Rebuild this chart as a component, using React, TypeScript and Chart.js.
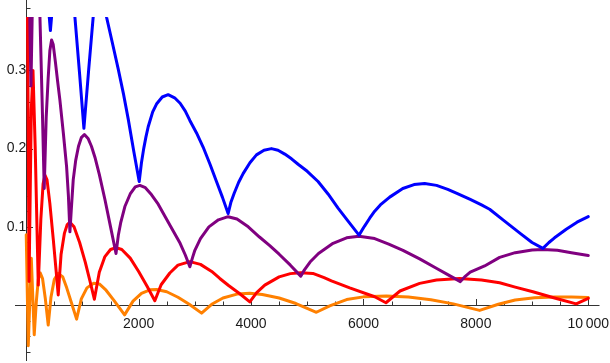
import { useEffect, useRef } from 'react';
import { Chart, registerables } from 'chart.js';

Chart.register(...registerables);

// ---- data (x, y) ----
const blueSeries: [number, number][] = [
  [0, 0.9], [200, 0.6], [390, 0.385], [430, 0.351], [470, 0.385], [650, 0.6], [840, 0.39], [866, 0.368],
  [950, 0.295], [1026, 0.226], [1110, 0.3], [1191, 0.368], [1215, 0.39], [1320, 0.45], [1405, 0.39],
  [1429, 0.368], [1530, 0.336], [1636, 0.302], [1730, 0.27], [1814, 0.238], [1910, 0.198], [2010, 0.158],
  [2050, 0.182], [2090, 0.2], [2130, 0.215], [2170, 0.228], [2250, 0.247], [2318, 0.257], [2420, 0.266],
  [2525, 0.269], [2640, 0.265], [2738, 0.258], [2830, 0.248], [2911, 0.236], [3030, 0.22], [3147, 0.202],
  [3270, 0.18], [3385, 0.158], [3490, 0.138], [3592, 0.117], [3640, 0.131], [3700, 0.143], [3780, 0.157],
  [3859, 0.168], [3980, 0.182], [4096, 0.192], [4230, 0.198], [4363, 0.2], [4480, 0.198], [4600, 0.193],
  [4720, 0.187], [4837, 0.18], [5000, 0.171], [5192, 0.158], [5370, 0.142], [5548, 0.124], [5730, 0.107],
  [5921, 0.0894], [6020, 0.101], [6111, 0.111], [6200, 0.12], [6300, 0.128], [6467, 0.138], [6700, 0.149],
  [6900, 0.154], [7089, 0.1555], [7300, 0.153], [7500, 0.148], [7653, 0.143], [7900, 0.135], [8100, 0.128],
  [8245, 0.1225], [8500, 0.108], [8800, 0.091], [9000, 0.08], [9193, 0.0724], [9300, 0.08], [9400, 0.086],
  [9608, 0.097], [9800, 0.106], [10000, 0.113],
];

const purpleSeries: [number, number][] = [
  [0, 0.9], [55, 0.4], [84, 0.28], [113, 0.4], [200, 0.7], [230, 0.4], [244, 0.368], [283, 0.26],
  [320, 0.149], [355, 0.24], [390, 0.29], [420, 0.325], [451, 0.339], [480, 0.333], [520, 0.31],
  [560, 0.285], [599, 0.262], [660, 0.22], [718, 0.177], [750, 0.14], [777, 0.0936], [800, 0.12],
  [836, 0.16], [880, 0.185], [930, 0.203], [980, 0.214], [1035, 0.218], [1100, 0.213], [1160, 0.203],
  [1222, 0.189], [1300, 0.167], [1400, 0.135], [1500, 0.1], [1597, 0.066], [1640, 0.09], [1680, 0.105],
  [1755, 0.126], [1850, 0.142], [1940, 0.151], [2022, 0.153], [2120, 0.15], [2230, 0.141], [2348, 0.129],
  [2480, 0.112], [2620, 0.094], [2738, 0.079], [2830, 0.064], [2911, 0.049], [2960, 0.061], [3000, 0.07],
  [3100, 0.085], [3250, 0.1], [3420, 0.109], [3592, 0.113], [3750, 0.11], [3950, 0.1], [4150, 0.087],
  [4333, 0.076], [4500, 0.065], [4700, 0.051], [4884, 0.037], [4950, 0.045], [5050, 0.055], [5200, 0.066],
  [5459, 0.079], [5700, 0.086], [5921, 0.088], [6200, 0.085], [6450, 0.078], [6703, 0.07], [7000, 0.059],
  [7297, 0.047], [7500, 0.039], [7724, 0.03], [7800, 0.036], [7900, 0.042], [8156, 0.05], [8423, 0.061],
  [8700, 0.067], [9000, 0.0705], [9193, 0.0711], [9450, 0.07], [9700, 0.067], [10000, 0.0635],
];

const redSeries: [number, number][] = [
  [0, 0.6], [25, 0.35], [50, 0.03], [90, 0.25], [120, 0.3], [160, 0.2], [214, 0.0255], [260, 0.11],
  [300, 0.155], [333, 0.166], [370, 0.16], [420, 0.13], [480, 0.085], [530, 0.045], [569, 0.013],
  [620, 0.065], [680, 0.092], [730, 0.103], [777, 0.106], [850, 0.1], [950, 0.08], [1050, 0.055],
  [1130, 0.032], [1212, 0.0075], [1300, 0.042], [1400, 0.062], [1500, 0.071], [1597, 0.0735], [1700, 0.071],
  [1850, 0.06], [2000, 0.043], [2150, 0.024], [2288, 0.0055], [2400, 0.026], [2555, 0.041], [2700, 0.051],
  [2911, 0.0555], [3100, 0.052], [3300, 0.043], [3444, 0.034], [3600, 0.025], [3800, 0.0145], [3978, 0.004],
  [4100, 0.016], [4244, 0.0255], [4500, 0.036], [4700, 0.0402], [4884, 0.0413], [5100, 0.0405], [5300, 0.035],
  [5430, 0.031], [5756, 0.022], [6200, 0.0106], [6400, 0.003], [6650, 0.018], [7000, 0.0277], [7300, 0.032],
  [7711, 0.034], [8100, 0.032], [8423, 0.0285], [8700, 0.023], [9015, 0.017], [9400, 0.009], [9786, 0.0015],
  [10000, 0.0085],
];

const orangeSeries: [number, number][] = [
  [0, 0.09], [36, -0.052], [90, 0.06], [142, -0.038], [180, 0.005], [215, 0.033], [250, 0.041], [290, 0.034],
  [340, 0.008], [391, -0.0255], [440, 0.01], [500, 0.033], [569, 0.0405], [650, 0.036], [720, 0.022],
  [800, 0.004], [896, -0.018], [980, 0.008], [1080, 0.022], [1200, 0.028], [1300, 0.027], [1420, 0.019],
  [1560, 0.006], [1750, -0.0125], [1900, 0.005], [2050, 0.015], [2200, 0.0195], [2320, 0.02], [2500, 0.017],
  [2700, 0.01], [2900, 0.001], [3120, -0.0103], [3300, 0.001], [3500, 0.009], [3750, 0.014], [3978, 0.015],
  [4200, 0.0135], [4500, 0.009], [4800, 0.002], [5163, -0.0092], [5400, -0.001], [5700, 0.007], [6000, 0.0105],
  [6408, 0.0115], [6800, 0.0103], [7200, 0.0068], [7600, 0.0015], [8067, -0.0068], [8400, 0.001],
  [8700, 0.0065], [9045, 0.0095], [9400, 0.0102], [9700, 0.0102], [10000, 0.0098],
];

// ---- axes ----
const xMajorTicks = [2000, 4000, 6000, 8000, 10000];
const xTickLabels = ['2000', '4000', '6000', '8000', '10\u2009000'];
const xMinorTicks = [500, 1000, 1500, 2500, 3000, 3500, 4500, 5000, 5500, 6500, 7000, 7500, 8500, 9000, 9500];
const yMajorTicks = [0.1, 0.2, 0.3];
const yTickLabels = ['0.1', '0.2', '0.3'];
const yMinorTicks = [-0.06, -0.04, -0.02, 0.02, 0.04, 0.06, 0.08, 0.12, 0.14, 0.16, 0.18, 0.22, 0.24, 0.26, 0.28, 0.32, 0.34, 0.36, 0.38];

const AXIS_COLOR = '#333333';
const LABEL_COLOR = '#1a1a1a';
const FONT = { family: '"Liberation Sans", Arial, sans-serif', size: 14 };

const axesPlugin = {
  id: 'mmaAxes',
  beforeDatasetsDraw(chart: any) {
    const { ctx, chartArea, scales } = chart;
    const xs = scales.x;
    const ys = scales.y;
    const x0 = Math.round(xs.getPixelForValue(0)) + 0.5;
    const y0 = Math.round(ys.getPixelForValue(0)) + 0.5;
    ctx.save();
    ctx.strokeStyle = AXIS_COLOR;
    ctx.lineWidth = 1;
    ctx.beginPath();
    ctx.moveTo(chartArea.left, y0);
    ctx.lineTo(chartArea.right, y0);
    ctx.moveTo(x0, chartArea.top);
    ctx.lineTo(x0, chartArea.bottom);
    for (const v of xMajorTicks) {
      const p = Math.round(xs.getPixelForValue(v)) + 0.5;
      ctx.moveTo(p, y0);
      ctx.lineTo(p, y0 - 6.5);
    }
    for (const v of xMinorTicks) {
      const p = Math.round(xs.getPixelForValue(v)) + 0.5;
      ctx.moveTo(p, y0);
      ctx.lineTo(p, y0 - 4);
    }
    for (const v of yMajorTicks) {
      const p = Math.round(ys.getPixelForValue(v)) + 0.5;
      ctx.moveTo(x0, p);
      ctx.lineTo(x0 + 6.5, p);
    }
    for (const v of yMinorTicks) {
      const p = Math.round(ys.getPixelForValue(v)) + 0.5;
      ctx.moveTo(x0, p);
      ctx.lineTo(x0 + 4, p);
    }
    ctx.stroke();
    ctx.restore();
  },
};

const toPoints = (s: [number, number][]) => s.map(([x, y]) => ({ x, y }));

const noSpace = (scale: any) => {
  if (scale.isHorizontal()) scale.height = 0;
  else scale.width = 0;
  scale.paddingLeft = 0;
  scale.paddingRight = 0;
  scale.paddingTop = 0;
  scale.paddingBottom = 0;
};

export default function App() {
  const ref = useRef<HTMLCanvasElement | null>(null);

  useEffect(() => {
    document.body.style.margin = '0';
    const canvas = ref.current;
    if (!canvas) return;
    const clip = { left: 0, top: -17, right: 0, bottom: 0 };
    const mk = (data: [number, number][], color: string, order: number) => ({
      data: toPoints(data),
      borderColor: color,
      backgroundColor: color,
      borderWidth: 3,
      pointRadius: 0,
      tension: 0,
      fill: false,
      order,
      clip,
      borderJoinStyle: 'round' as const,
      borderCapStyle: 'round' as const,
    });
    const chart = new Chart(canvas, {
      type: 'line',
      data: {
        datasets: [
          mk(blueSeries, '#0000ff', 1),
          mk(purpleSeries, '#800080', 2),
          mk(redSeries, '#ff0000', 3),
          mk(orangeSeries, '#ff8000', 4),
        ],
      },
      options: {
        responsive: false,
        animation: false,
        parsing: false,
        normalized: true,
        layout: { padding: { left: 15, right: 10.5, top: 0, bottom: 2 } },
        plugins: { legend: { display: false }, tooltip: { enabled: false } },
        scales: {
          x: {
            type: 'linear',
            min: -200,
            max: 10200,
            position: { y: 0 } as any,
            grid: { display: false },
            border: { display: false },
            afterBuildTicks: (scale: any) => {
              scale.ticks = xMajorTicks.map((v) => ({ value: v }));
            },
            afterFit: noSpace,
            ticks: {
              autoSkip: false,
              maxRotation: 0,
              minRotation: 0,
              padding: 3,
              color: LABEL_COLOR,
              font: FONT,
              callback: (v: any) => {
                const i = xMajorTicks.indexOf(Number(v));
                return i >= 0 ? xTickLabels[i] : '';
              },
            },
          },
          y: {
            type: 'linear',
            min: -0.0715,
            max: 0.39,
            position: { x: 0 } as any,
            grid: { display: false },
            border: { display: false },
            afterBuildTicks: (scale: any) => {
              scale.ticks = yMajorTicks.map((v) => ({ value: v }));
            },
            afterFit: noSpace,
            ticks: {
              autoSkip: false,
              padding: 11,
              color: LABEL_COLOR,
              font: FONT,
              callback: (v: any) => {
                const i = yMajorTicks.findIndex((t) => Math.abs(t - Number(v)) < 1e-9);
                return i >= 0 ? yTickLabels[i] : '';
              },
            },
          },
        },
      },
      plugins: [axesPlugin],
    });
    return () => chart.destroy();
  }, []);

  return <canvas ref={ref} width={610} height={363} style={{ display: 'block', width: 610, height: 363 }} />;
}
